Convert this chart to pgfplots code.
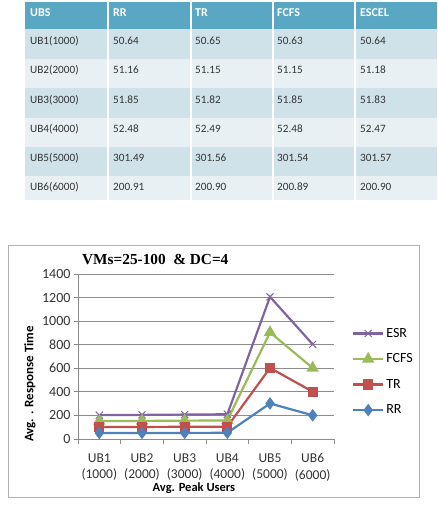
\documentclass[border=0pt]{standalone}
\usepackage{pgfplots}
\pgfplotsset{compat=1.18}
\usepackage{fontspec}
\setmainfont{Carlito}
\newfontfamily\timesb{Liberation Serif}
\definecolor{hdr}{HTML}{5AA7C4}
\definecolor{rowa}{HTML}{CFE2E9}
\definecolor{rowb}{HTML}{E8F0F3}
\definecolor{rrc}{HTML}{4F81BD}
\definecolor{trc}{HTML}{C0504D}
\definecolor{fcc}{HTML}{9BBB59}
\definecolor{esc}{HTML}{8064A2}
\pgfplotstableread{
x RR TR FCFS ESCEL
0 50.64 50.65 50.63 50.64
1 51.16 51.15 51.15 51.18
2 51.85 51.82 51.85 51.83
3 52.48 52.49 52.48 52.47
4 301.49 301.56 301.54 301.57
5 200.91 200.90 200.89 200.90
}\datatable
\begin{document}
\begin{tikzpicture}[x=1pt,y=-1pt]
\useasboundingbox (0,0) rectangle (437,505);
% ---- table ----
\fill[hdr] (25,2) rectangle (437,29);
\fill[rowa] (25,29) rectangle (437,59);
\fill[rowb] (25,59) rectangle (437,88);
\fill[rowa] (25,88) rectangle (437,118);
\fill[rowb] (25,118) rectangle (437,147);
\fill[rowa] (25,147) rectangle (437,176);
\fill[rowb] (25,176) rectangle (437,200);
\foreach \xx in {108,191,273,355} \draw[white,line width=1.5pt] (\xx,2) -- (\xx,200);
\begin{scope}[every node/.style={anchor=west,inner sep=0pt,font=\fontsize{11.2}{13}\selectfont,text=black!80}]
\foreach \t [count=\i from 0] in {UBS,RR,TR,FCFS,ESCEL}{
  \pgfmathsetmacro{\cx}{{30,113,195,277,360}[\i]}
  \node[text=white,font=\bfseries\fontsize{12}{14}\selectfont] at (\cx,13) {\t};
}
\foreach \ry/\a/\b/\c/\d/\e in {41/UB1(1000)/50.64/50.65/50.63/50.64,
  70/UB2(2000)/51.16/51.15/51.15/51.18,
  100/UB3(3000)/51.85/51.82/51.85/51.83,
  129/UB4(4000)/52.48/52.49/52.48/52.47,
  158/UB5(5000)/301.49/301.56/301.54/301.57,
  187/UB6(6000)/200.91/200.90/200.89/200.90}{
  \node at (30,\ry) {\a};
  \node at (113,\ry) {\b};
  \node at (195,\ry) {\c};
  \node at (277,\ry) {\d};
  \node at (360,\ry) {\e};
}
\end{scope}
% ---- chart frame ----
\draw[black!30,line width=0.8pt] (8,245) rectangle (419,497);
\node[anchor=west,inner sep=0pt,font=\timesb\bfseries\fontsize{15.3}{18}\selectfont] at (82,260) {VMs=25-100 \ \& DC=4};
\begin{axis}[
  at={(78pt,-439pt)}, anchor=south west,
  scale only axis, width=256pt, height=165pt,
  xmin=-0.5, xmax=5.5, ymin=0, ymax=1400,
  ytick={0,200,...,1400},
  xtick={0,...,5},
  xticklabels={{UB1\\(1000)},{UB2\\(2000)},{UB3\\(3000)},{UB4\\(4000)},{UB5\\(5000)},{UB6\\(6000)}},
  minor xtick={-0.5,0.5,...,5.5},
  axis lines*=left,
  axis line style={black!45,line width=0.8pt},
  major tick length=4pt, minor tick length=5pt,
  major x tick style={draw=none},
  minor x tick style={black!45,line width=0.8pt},
  major y tick style={black!45,line width=0.8pt},
  tick align=outside,
  ymajorgrids, major grid style={black!45,line width=1pt},
  /pgf/number format/assume math mode=true,
  /pgf/number format/1000 sep={},
  scaled y ticks=false,
  tick label style={font=\fontsize{14}{16}\selectfont, text=black!80},
  xticklabel style={align=center, font=\fontsize{13.5}{16.5}\selectfont, yshift=-7pt},
  ylabel={Avg. . Response Time},
  ylabel style={at={(axis description cs:-0.1875,0.333)}, anchor=center, font=\bfseries\fontsize{13}{15}\selectfont},
  xlabel={Avg. Peak Users},
  xlabel style={at={(axis description cs:0.453,-0.297)}, anchor=center, font=\bfseries\fontsize{12.5}{15}\selectfont},
  stack plots=y,
  reverse legend,
  legend cell align=left,
  legend style={at={(axis description cs:1.07,0.685)}, anchor=north west, draw=none, fill=none,
    font=\fontsize{14}{16}\selectfont, row sep=11pt, inner sep=0pt},
  every axis plot/.append style={line width=2.2pt,
    legend image code/.code={\draw[mark repeat=2,mark phase=2] plot coordinates {(0pt,0pt) (15pt,0pt) (30pt,0pt)};}},
]
\addplot[rrc, mark=diamond*, mark size=4.5pt, mark options={solid}] table[x=x,y=RR] {\datatable};
\addlegendentry{RR}
\addplot[trc, mark=square*, mark size=4pt] table[x=x,y=TR] {\datatable};
\addlegendentry{TR}
\addplot[fcc, mark=triangle*, mark size=5pt] table[x=x,y=FCFS] {\datatable};
\addlegendentry{FCFS}
\addplot[esc, mark=x, mark size=5pt, mark options={line width=1pt}] table[x=x,y=ESCEL] {\datatable};
\addlegendentry{ESR}
\end{axis}
\end{tikzpicture}
\end{document}
